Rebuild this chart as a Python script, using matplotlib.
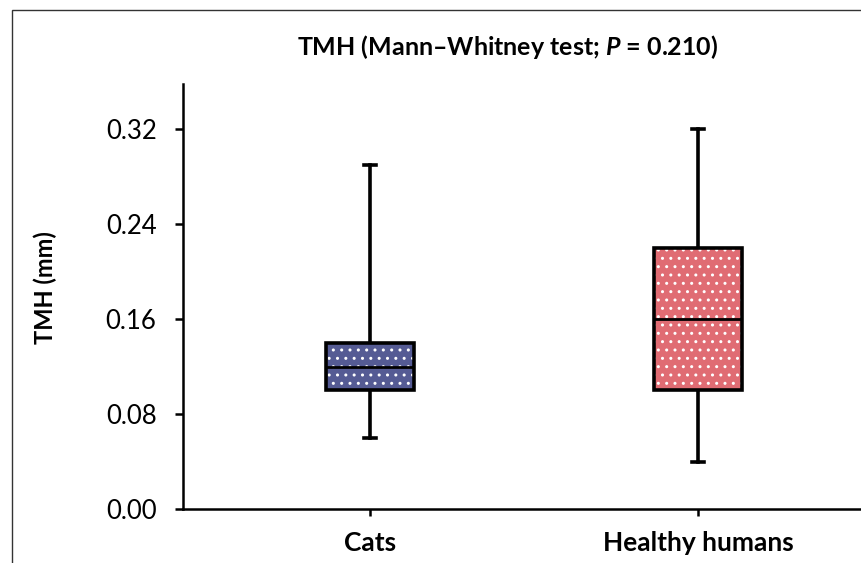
import matplotlib
matplotlib.use("Agg")
import matplotlib.pyplot as plt
from matplotlib.patches import PathPatch, Rectangle

# data
groups = ["Cats", "Healthy humans"]
whisker_lo = [0.06, 0.04]
q1 = [0.10, 0.10]
median = [0.12, 0.16]
q3 = [0.14, 0.22]
whisker_hi = [0.29, 0.32]
y_ticks = [0.00, 0.08, 0.16, 0.24, 0.32]
box_colors = ["#555b94", "#e06c73"]

plt.rcParams["font.family"] = ["Lato", "DejaVu Sans"]
plt.rcParams["mathtext.fontset"] = "custom"
plt.rcParams["mathtext.it"] = "Lato:bold:italic"
plt.rcParams["mathtext.rm"] = "Lato:bold"
plt.rcParams["hatch.linewidth"] = 1.0

fig = plt.figure(figsize=(8.61, 5.63), dpi=100)
ax = fig.add_axes([183 / 861, 1 - 509 / 563, 1 - 183 / 861, 425 / 563])

stats = []
for i in range(len(groups)):
    stats.append({
        "label": groups[i],
        "whislo": whisker_lo[i],
        "q1": q1[i],
        "med": median[i],
        "q3": q3[i],
        "whishi": whisker_hi[i],
        "fliers": [],
    })

bp = ax.bxp(stats, positions=[1, 2], widths=0.27, patch_artist=True,
            showfliers=False,
            boxprops=dict(linewidth=2.6, edgecolor="black"),
            medianprops=dict(color="black", linewidth=2.0),
            whiskerprops=dict(color="black", linewidth=2.6),
            capprops=dict(color="black", linewidth=2.6),
            capwidths=0.035)

# hatched fill underneath the box outline
for box, col in zip(bp["boxes"], box_colors):
    box.set_facecolor("none")
    box.set_zorder(3)
    fill = PathPatch(box.get_path(), facecolor=col, edgecolor="white",
                     hatch="..", linewidth=0, zorder=2)
    ax.add_patch(fill)

ax.set_xlim(1 - 187 / 328, 2 + 163 / 328)
ax.set_ylim(0, 0.3579)
ax.set_yticks(y_ticks)
ax.set_yticklabels([f"{v:.2f}" for v in y_ticks])
ax.set_xticks([1, 2])
ax.set_xticklabels(groups, fontweight="bold")

for s in ["top", "right"]:
    ax.spines[s].set_visible(False)
ax.spines["left"].set_linewidth(1.8)
ax.spines["bottom"].set_linewidth(1.8)
ax.tick_params(axis="y", length=6, width=1.8, pad=13, labelsize=18.5)
ax.tick_params(axis="x", length=5, width=1.8, pad=11, labelsize=19)

fig.text(45 / 861, 1 - 288 / 563, "TMH (mm)", rotation=90, fontsize=17,
         fontweight="bold", ha="center", va="center")
fig.text(508 / 861, 1 - 47 / 563, "TMH (Mann–Whitney test; $P$ = 0.210)",
         fontsize=18, fontweight="bold", ha="center", va="center")

# outer chart frame (cropped on the right and bottom)
fig.patches.append(Rectangle((12 / 861, -0.1), 1.2, 1 - 10 / 563 + 0.1,
                             transform=fig.transFigure, fill=False,
                             edgecolor="#333333", linewidth=1.0))

fig.savefig("out.png", dpi=100)
